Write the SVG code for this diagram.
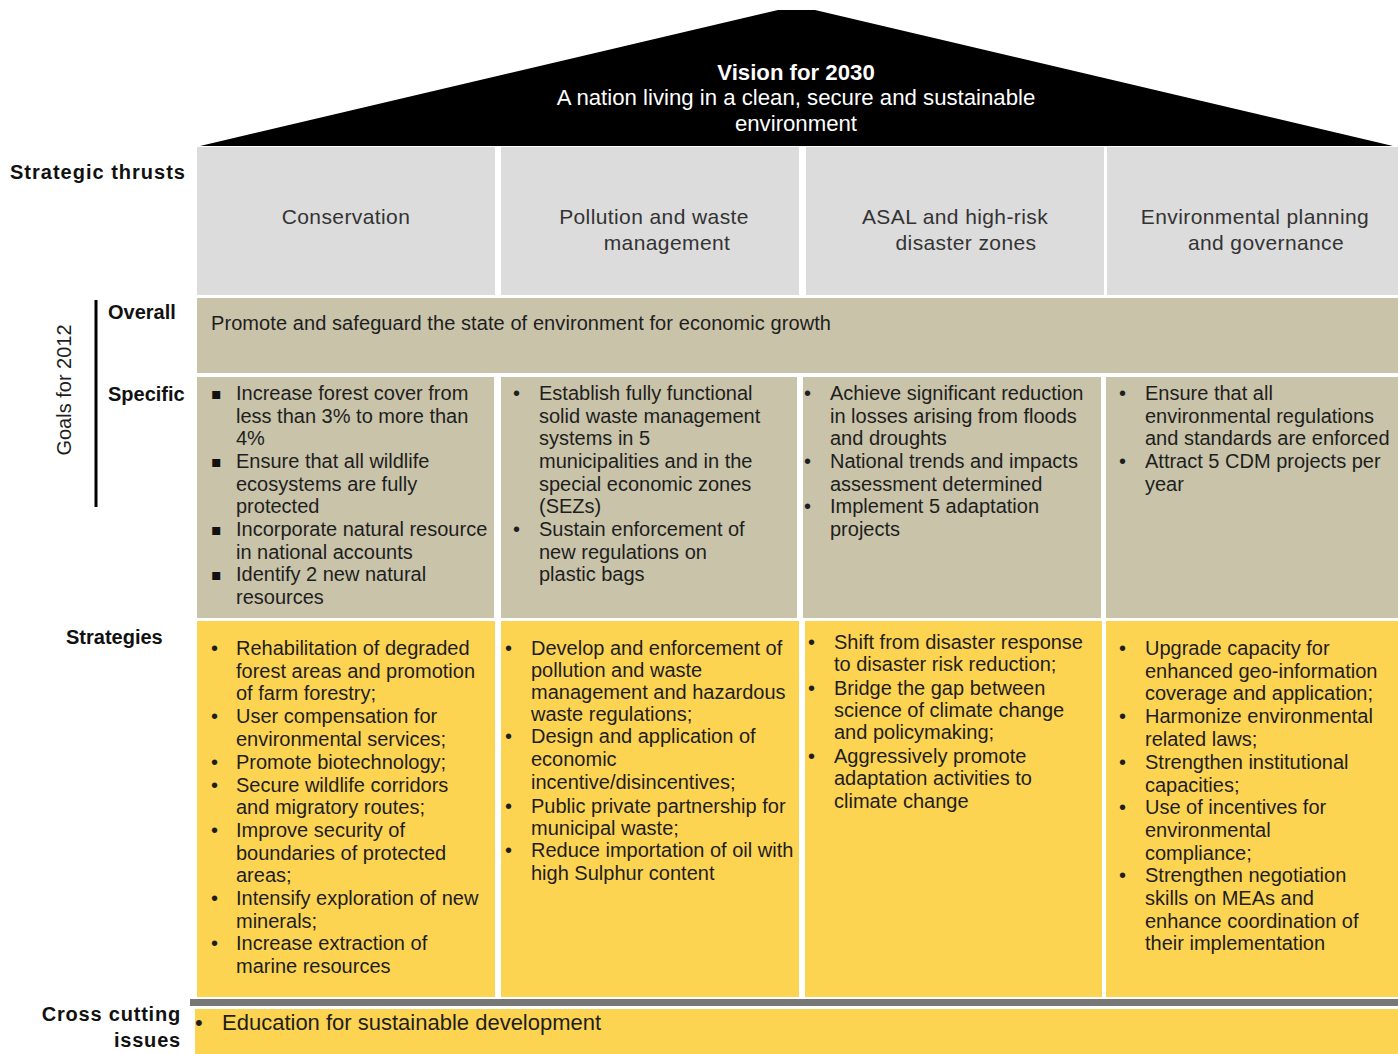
<svg xmlns="http://www.w3.org/2000/svg" width="1398" height="1054" viewBox="0 0 1398 1054">
<style>
.t{font-family:"Liberation Sans",Arial,sans-serif;font-size:20px;fill:#1e1e1e}
.h{font-family:"Liberation Sans",Arial,sans-serif;font-size:21px;fill:#333;text-anchor:middle;letter-spacing:0.4px}
.lb{font-family:"Liberation Sans",Arial,sans-serif;font-size:20px;font-weight:bold;fill:#111}
.w{font-family:"Liberation Sans",Arial,sans-serif;font-size:22.2px;fill:#fff;text-anchor:middle}
.sq{font-family:"DejaVu Sans",sans-serif;font-size:16px;fill:#111}
.grey{fill:#dcdcdc}
.khaki{fill:#c8c3a9}
.yel{fill:#fdd352}
</style>
<rect width="1398" height="1054" fill="#fff"/>

<g id="roof">
<polygon points="200,146 778,10 815,10 1393,146" fill="#000"/>
<text class="w" x="796" y="80" font-weight="bold">Vision for 2030</text>
<text class="w" x="796" y="105">A nation living in a clean, secure and sustainable</text>
<text class="w" x="796" y="131">environment</text>
</g>

<g id="labels">
<text class="lb" x="10" y="179" letter-spacing="1">Strategic thrusts</text>
<text class="lb" x="108" y="319">Overall</text>
<text class="lb" x="108" y="401">Specific</text>
<text class="t" transform="translate(71,390) rotate(-90)" text-anchor="middle">Goals for 2012</text>
<line x1="96" y1="300" x2="96" y2="507" stroke="#000" stroke-width="3"/>
<text class="lb" x="66" y="644">Strategies</text>
<text class="lb" x="181" y="1021" text-anchor="end" letter-spacing="0.8">Cross cutting</text>
<text class="lb" x="181" y="1047" text-anchor="end" letter-spacing="0.8">issues</text>
</g>

<g id="thrust-conservation">
<rect class="grey" x="197" y="147" width="298" height="148"/>
<text class="h" x="346" y="224">Conservation</text>
</g>
<g id="thrust-pollution">
<rect class="grey" x="501" y="147" width="298" height="148"/>
<text class="h" x="654" y="224">Pollution and waste</text>
<text class="h" x="667" y="250">management</text>
</g>
<g id="thrust-asal">
<rect class="grey" x="806" y="147" width="298" height="148"/>
<text class="h" x="955" y="224">ASAL and high-risk</text>
<text class="h" x="966" y="250">disaster zones</text>
</g>
<g id="thrust-planning">
<rect class="grey" x="1107" y="147" width="291" height="148"/>
<text class="h" x="1255" y="224">Environmental planning</text>
<text class="h" x="1266" y="250">and governance</text>
</g>

<g id="goal-overall">
<rect class="khaki" x="197" y="298" width="1201" height="75"/>
<text class="t" x="211" y="330" letter-spacing="0.08">Promote and safeguard the state of environment for economic growth</text>
</g>

<g id="specific-conservation">
<rect class="khaki" x="197" y="377" width="297" height="241"/>
<text class="sq" x="211" y="399">▪</text>
<text class="sq" x="211" y="467">▪</text>
<text class="sq" x="211" y="535">▪</text>
<text class="sq" x="211" y="580">▪</text>
<text class="t" x="236">
<tspan x="236" y="400">Increase forest cover from</tspan>
<tspan x="236" y="423">less than 3% to more than</tspan>
<tspan x="236" y="445">4%</tspan>
<tspan x="236" y="468">Ensure that all wildlife</tspan>
<tspan x="236" y="491">ecosystems are fully</tspan>
<tspan x="236" y="513">protected</tspan>
<tspan x="236" y="536">Incorporate natural resource</tspan>
<tspan x="236" y="559">in national accounts</tspan>
<tspan x="236" y="581">Identify 2 new natural</tspan>
<tspan x="236" y="604">resources</tspan>
</text>
</g>

<g id="specific-pollution">
<rect class="khaki" x="501" y="377" width="296" height="241"/>
<text class="t">
<tspan x="513" y="400">•</tspan>
<tspan x="513" y="536">•</tspan>
<tspan x="539" y="400">Establish fully functional</tspan>
<tspan x="539" y="423">solid waste management</tspan>
<tspan x="539" y="445">systems in 5</tspan>
<tspan x="539" y="468">municipalities and in the</tspan>
<tspan x="539" y="491">special economic zones</tspan>
<tspan x="539" y="513">(SEZs)</tspan>
<tspan x="539" y="536">Sustain enforcement of</tspan>
<tspan x="539" y="559">new regulations on</tspan>
<tspan x="539" y="581">plastic bags</tspan>
</text>
</g>

<g id="specific-asal">
<rect class="khaki" x="803" y="377" width="298" height="241"/>
<text class="t">
<tspan x="804" y="400">•</tspan>
<tspan x="804" y="468">•</tspan>
<tspan x="804" y="513">•</tspan>
<tspan x="830" y="400">Achieve significant reduction</tspan>
<tspan x="830" y="423">in losses arising from floods</tspan>
<tspan x="830" y="445">and droughts</tspan>
<tspan x="830" y="468">National trends and impacts</tspan>
<tspan x="830" y="491">assessment determined</tspan>
<tspan x="830" y="513">Implement 5 adaptation</tspan>
<tspan x="830" y="536">projects</tspan>
</text>
</g>

<g id="specific-planning">
<rect class="khaki" x="1106" y="377" width="292" height="241"/>
<text class="t">
<tspan x="1119" y="400">•</tspan>
<tspan x="1119" y="468">•</tspan>
<tspan x="1145" y="400">Ensure that all</tspan>
<tspan x="1145" y="423">environmental regulations</tspan>
<tspan x="1145" y="445">and standards are enforced</tspan>
<tspan x="1145" y="468">Attract 5 CDM projects per</tspan>
<tspan x="1145" y="491">year</tspan>
</text>
</g>

<g id="strategies-conservation">
<rect class="yel" x="197" y="621" width="298" height="376"/>
<text class="t">
<tspan x="211" y="655">•</tspan>
<tspan x="211" y="723">•</tspan>
<tspan x="211" y="769">•</tspan>
<tspan x="211" y="792">•</tspan>
<tspan x="211" y="837">•</tspan>
<tspan x="211" y="905">•</tspan>
<tspan x="211" y="950">•</tspan>
<tspan x="236" y="655">Rehabilitation of degraded</tspan>
<tspan x="236" y="678">forest areas and promotion</tspan>
<tspan x="236" y="700">of farm forestry;</tspan>
<tspan x="236" y="723">User compensation for</tspan>
<tspan x="236" y="746">environmental services;</tspan>
<tspan x="236" y="769">Promote biotechnology;</tspan>
<tspan x="236" y="792">Secure wildlife corridors</tspan>
<tspan x="236" y="814">and migratory routes;</tspan>
<tspan x="236" y="837">Improve security of</tspan>
<tspan x="236" y="860">boundaries of protected</tspan>
<tspan x="236" y="882">areas;</tspan>
<tspan x="236" y="905">Intensify exploration of new</tspan>
<tspan x="236" y="928">minerals;</tspan>
<tspan x="236" y="950">Increase extraction of</tspan>
<tspan x="236" y="973">marine resources</tspan>
</text>
</g>

<g id="strategies-pollution">
<rect class="yel" x="501" y="621" width="298" height="376"/>
<text class="t">
<tspan x="505" y="655">•</tspan>
<tspan x="505" y="743">•</tspan>
<tspan x="505" y="813">•</tspan>
<tspan x="505" y="857">•</tspan>
<tspan x="531" y="655">Develop and enforcement of</tspan>
<tspan x="531" y="677">pollution and waste</tspan>
<tspan x="531" y="699">management and hazardous</tspan>
<tspan x="531" y="721">waste regulations;</tspan>
<tspan x="531" y="743">Design and application of</tspan>
<tspan x="531" y="766">economic</tspan>
<tspan x="531" y="789">incentive/disincentives;</tspan>
<tspan x="531" y="813">Public private partnership for</tspan>
<tspan x="531" y="835">municipal waste;</tspan>
<tspan x="531" y="857">Reduce importation of oil with</tspan>
<tspan x="531" y="880">high Sulphur content</tspan>
</text>
</g>

<g id="strategies-asal">
<rect class="yel" x="805" y="621" width="297" height="376"/>
<text class="t">
<tspan x="808" y="649">•</tspan>
<tspan x="808" y="695">•</tspan>
<tspan x="808" y="763">•</tspan>
<tspan x="834" y="649">Shift from disaster response</tspan>
<tspan x="834" y="671">to disaster risk reduction;</tspan>
<tspan x="834" y="695">Bridge the gap between</tspan>
<tspan x="834" y="717">science of climate change</tspan>
<tspan x="834" y="739">and policymaking;</tspan>
<tspan x="834" y="763">Aggressively promote</tspan>
<tspan x="834" y="785">adaptation activities to</tspan>
<tspan x="834" y="808">climate change</tspan>
</text>
</g>

<g id="strategies-planning">
<rect class="yel" x="1106" y="621" width="292" height="376"/>
<text class="t">
<tspan x="1119" y="655">•</tspan>
<tspan x="1119" y="723">•</tspan>
<tspan x="1119" y="769">•</tspan>
<tspan x="1119" y="814">•</tspan>
<tspan x="1119" y="882">•</tspan>
<tspan x="1145" y="655">Upgrade capacity for</tspan>
<tspan x="1145" y="678">enhanced geo-information</tspan>
<tspan x="1145" y="700">coverage and application;</tspan>
<tspan x="1145" y="723">Harmonize environmental</tspan>
<tspan x="1145" y="746">related laws;</tspan>
<tspan x="1145" y="769">Strengthen institutional</tspan>
<tspan x="1145" y="792">capacities;</tspan>
<tspan x="1145" y="814">Use of incentives for</tspan>
<tspan x="1145" y="837">environmental</tspan>
<tspan x="1145" y="860">compliance;</tspan>
<tspan x="1145" y="882">Strengthen negotiation</tspan>
<tspan x="1145" y="905">skills on MEAs and</tspan>
<tspan x="1145" y="928">enhance coordination of</tspan>
<tspan x="1145" y="950">their implementation</tspan>
</text>
</g>

<g id="cross-cutting">
<rect x="190" y="999" width="1208" height="7" fill="#777"/>
<rect class="yel" x="195" y="1009" width="1203" height="45"/>
<text class="t" style="font-size:22px">
<tspan x="195" y="1030">•</tspan>
<tspan x="222" y="1030">Education for sustainable development</tspan>
</text>
</g>
<g id="connectors"/>
</svg>
